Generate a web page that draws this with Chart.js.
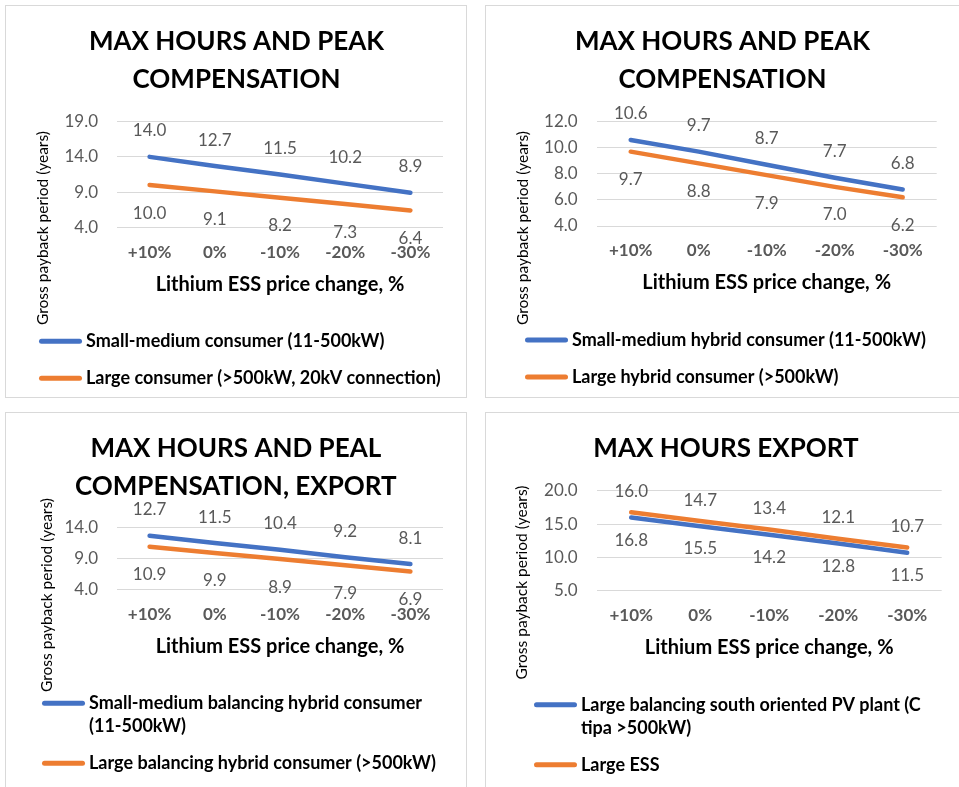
<!DOCTYPE html>
<html>
<head>
<meta charset="utf-8">
<title>Gross payback period vs Lithium ESS price change</title>
<script src="https://cdn.jsdelivr.net/npm/chart.js@4.4.1/dist/chart.umd.min.js"></script>
<style>
  html, body { margin: 0; padding: 0; background: #fff; overflow: hidden; }
  body { width: 959px; height: 787px; position: relative; }
  .panel { position: absolute; border: 1px solid #d9d9d9; background: #fff; box-sizing: border-box; overflow: hidden; }
  .panel canvas { display: block; }
</style>
</head>
<body>
<div class="panel" style="left:5px;top:5px;width:462px;height:393px"><canvas id="c1" width="460" height="391"></canvas></div>
<div class="panel" style="left:485px;top:5px;width:480px;height:393px"><canvas id="c2" width="478" height="391"></canvas></div>
<div class="panel" style="left:5px;top:412px;width:462px;height:390px"><canvas id="c3" width="460" height="388"></canvas></div>
<div class="panel" style="left:485px;top:412px;width:480px;height:390px"><canvas id="c4" width="478" height="388"></canvas></div>

<script>
const categories = ['+10%', '0%', '-10%', '-20%', '-30%'];

// payback period, years
const smallMedium = [14.0, 12.7, 11.5, 10.2, 8.9];
const largeConsumer = [10.0, 9.1, 8.2, 7.3, 6.4];

const smallMediumHybrid = [10.6, 9.7, 8.7, 7.7, 6.8];
const largeHybrid = [9.7, 8.8, 7.9, 7.0, 6.2];

const smallMediumBalancing = [12.7, 11.5, 10.4, 9.2, 8.1];
const largeBalancing = [10.9, 9.9, 8.9, 7.9, 6.9];

const pvPlant = [16.0, 14.7, 13.4, 12.1, 10.7];
const largeEss = [16.8, 15.5, 14.2, 12.8, 11.5];

const BLUE = '#4472C4';
const ORANGE = '#ED7D31';
const GREY = '#595959';

Chart.defaults.font.family = 'Lato, "Open Sans", sans-serif';

// value labels, y axis title and the legend are drawn by hand
const decor = {
  id: 'decor',
  afterDatasetsDraw(chart, args, opts) {
    const ctx = chart.ctx;
    ctx.save();

    ctx.font = '17px Lato';
    ctx.fillStyle = GREY;
    ctx.textAlign = 'center';
    ctx.textBaseline = 'middle';
    chart.data.datasets.forEach((ds, i) => {
      const dy = ds.labelPos === 'above' ? -26 : 28;
      chart.getDatasetMeta(i).data.forEach((pt, j) => {
        ctx.fillText(ds.data[j].toFixed(1), pt.x, pt.y + dy);
      });
    });

    ctx.save();
    ctx.translate(opts.yTitleX, opts.yTitleY);
    ctx.rotate(-Math.PI / 2);
    ctx.font = '15.5px Lato';
    ctx.fillStyle = '#000';
    ctx.fillText('Gross payback period (years)', 0, 0);
    ctx.restore();

    ctx.font = 'bold 18px Lato';
    ctx.fillStyle = '#000';
    ctx.textAlign = 'left';
    ctx.lineWidth = 5;
    ctx.lineCap = 'round';
    const lx = opts.legendX;
    let y = chart.chartArea.bottom + 114;
    chart.data.datasets.forEach(ds => {
      const lines = ds.label.split('\n');
      ctx.strokeStyle = ds.borderColor;
      ctx.beginPath();
      ctx.moveTo(lx + 2.5, y);
      ctx.lineTo(lx + 40.5, y);
      ctx.stroke();
      lines.forEach((t, k) => ctx.fillText(t, lx + 47, y + k * 23));
      y += 37 + (lines.length - 1) * 23;
    });

    ctx.restore();
  }
};

function makeChart(id, cfg) {
  new Chart(document.getElementById(id), {
    type: 'line',
    data: {
      labels: categories,
      datasets: [
        { label: cfg.names[0], data: cfg.series[0], borderColor: BLUE, labelPos: 'above', order: 1 },
        { label: cfg.names[1], data: cfg.series[1], borderColor: ORANGE, labelPos: 'below', order: 0 }
      ]
    },
    options: {
      responsive: false,
      animation: false,
      elements: {
        line: { borderWidth: 4.5, borderCapStyle: 'round', tension: 0, fill: false },
        point: { radius: 0, hoverRadius: 0 }
      },
      layout: { padding: { left: cfg.padLeft, top: 0, right: cfg.padRight, bottom: cfg.padBottom } },
      plugins: {
        legend: { display: false },
        tooltip: { enabled: false },
        title: {
          display: true,
          text: cfg.title,
          color: '#000',
          font: { size: 26, weight: 'bold', lineHeight: 1.43 },
          padding: { top: 17.5, bottom: cfg.titleGap }
        },
        decor: { yTitleX: cfg.yTitle[0], yTitleY: cfg.yTitle[1], legendX: cfg.legendX }
      },
      scales: {
        x: {
          offset: true,
          grid: { display: false, drawTicks: false },
          border: { display: false },
          ticks: { color: GREY, font: { size: 17, weight: 'bold' }, padding: 14.6 },
          title: {
            display: true,
            text: 'Lithium ESS price change, %',
            color: '#000',
            font: { size: 20, weight: 'bold' },
            padding: { top: 0, bottom: 1 }
          },
          afterFit: s => { s.height = 70; }
        },
        y: {
          min: cfg.axis[0],
          max: cfg.axis[1],
          grid: { color: '#d9d9d9', lineWidth: 1, drawTicks: false },
          border: { display: false },
          ticks: {
            stepSize: cfg.axis[2],
            color: GREY,
            font: { size: 17 },
            padding: 19,
            callback: v => v.toFixed(1)
          },
          afterFit: s => { s.width = cfg.plotLeft - cfg.padLeft; }
        }
      }
    },
    plugins: [decor]
  });
}

makeChart('c1', {
  title: ['MAX HOURS AND PEAK', 'COMPENSATION'],
  names: ['Small-medium consumer (11-500kW)', 'Large consumer (>500kW, 20kV connection)'],
  series: [smallMedium, largeConsumer],
  axis: [4, 19, 5],
  plotLeft: 111, padLeft: 24, padRight: 23, padBottom: 99.7, titleGap: 23.8,
  yTitle: [37, 222], legendX: 33
});

makeChart('c2', {
  title: ['MAX HOURS AND PEAK', 'COMPENSATION'],
  names: ['Small-medium hybrid consumer (11-500kW)', 'Large hybrid consumer (>500kW)'],
  series: [smallMediumHybrid, largeHybrid],
  axis: [4, 12, 2],
  plotLeft: 110.7, padLeft: 22.3, padRight: 27.3, padBottom: 101, titleGap: 23.8,
  yTitle: [37, 222], legendX: 39
});

makeChart('c3', {
  title: ['MAX HOURS AND PEAL', 'COMPENSATION, EXPORT'],
  names: ['Small-medium balancing hybrid consumer\n(11-500kW)', 'Large balancing hybrid consumer (>500kW)'],
  series: [smallMediumBalancing, largeBalancing],
  axis: [4, 14, 5],
  plotLeft: 111, padLeft: 22.6, padRight: 23, padBottom: 141.7, titleGap: 22.8,
  yTitle: [41, 182], legendX: 36
});

makeChart('c4', {
  title: 'MAX HOURS EXPORT',
  names: ['Large balancing south oriented PV plant (C\ntipa >500kW)', 'Large ESS'],
  series: [pvPlant, largeEss],
  axis: [5, 20, 5],
  plotLeft: 110.7, padLeft: 24.3, padRight: 22.3, padBottom: 140.3, titleGap: 23.3,
  yTitle: [35.7, 169.5], legendX: 48
});
</script>
</body>
</html>
